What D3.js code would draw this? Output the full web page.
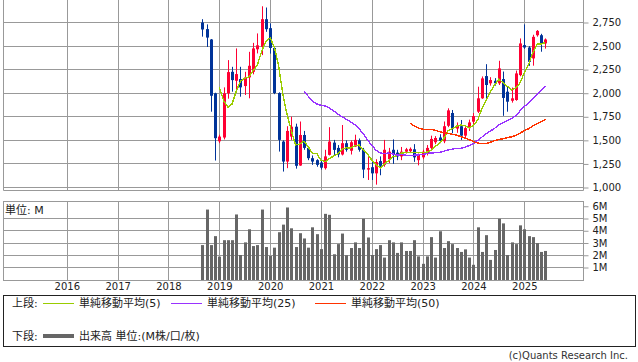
<!DOCTYPE html>
<html>
<head>
<meta charset="utf-8">
<script src="https://cdn.jsdelivr.net/npm/d3@7"></script>
<style>
  body { margin: 0; background: #fff; }
  svg { display: block; font-family: "DejaVu Sans", "Noto Sans CJK JP", sans-serif; }
</style>
</head>
<body>
<svg id="chart" width="638" height="362"></svg>
<script>
// monthly candles, first one is 2018-09
const firstMonth = new Date(2018, 8, 1);
const open  = [2750,2680,2570,1999,1490,1530,1999,2227,2132,2150,2076,2168,2227,2466,2492,2785,2690,2480,2002,1487,
               1275,1540,1645,1233,1557,1420,1311,1290,1265,1205,1346,1476,1420,1350,1470,1390,1434,1500,1400,1190,
               1215,1150,1280,1240,1300,1400,1370,1330,1380,1385,1405,1290,1320,1365,1420,1480,1530,1490,1655,1790,
               1625,1650,1550,1630,1698,1804,1946,2182,2105,2132,2105,2150,2016,1920,1928,2192,2510,2485,2369,2615,
               2615,2528];
const high  = [2785,2730,2575,2005,1560,2062,2351,2280,2475,2280,2227,2439,2534,2634,2922,2909,2740,2500,2010,1500,
               1650,1751,1677,1700,1600,1440,1340,1300,1290,1400,1640,1505,1450,1663,1500,1500,1560,1520,1420,1340,
               1290,1300,1330,1505,1420,1510,1400,1430,1420,1425,1460,1360,1400,1450,1550,1545,1565,1700,1840,1822,
               1690,1716,1660,1720,1790,2069,2178,2308,2170,2160,2344,2230,2069,2060,2240,2581,2730,2500,2620,2670,
               2630,2581];
const low   = [2600,2490,1804,1286,1470,1510,1942,2016,2034,1963,1981,1946,2200,2422,2404,2651,2420,1990,1381,1169,
               1205,1505,1200,1230,1400,1290,1240,1220,1190,1190,1340,1346,1320,1340,1380,1350,1430,1380,1100,1080,
               1080,1030,1130,1220,1260,1250,1290,1290,1360,1365,1272,1235,1300,1340,1400,1460,1470,1470,1640,1575,
               1580,1505,1520,1600,1670,1790,1940,1920,2080,2080,2087,1760,1804,1900,1920,2180,2470,2290,2292,2600,
               2440,2473];
const close = [2676,2590,1973,1523,1540,1999,2224,2139,2203,2062,2168,2291,2475,2508,2785,2679,2480,2002,1505,1275,
               1600,1645,1230,1557,1420,1311,1275,1240,1210,1330,1487,1399,1350,1470,1400,1480,1505,1400,1190,1205,
               1150,1270,1230,1400,1380,1346,1330,1380,1405,1410,1320,1346,1380,1420,1515,1525,1495,1650,1818,1630,
               1660,1550,1630,1690,1758,1946,2157,2087,2140,2105,2263,1950,1910,1946,2210,2528,2485,2333,2598,2661,
               2528,2570];
// volume in millions
const volume = [2.83,5.73,2.83,3.56,1.89,3.23,3.23,3.23,5.33,2.02,3.05,4.12,2.75,2.83,5.73,2.67,1.94,2.62,3.88,4.50,
                5.90,4.20,2.67,3.80,3.37,2.62,4.28,3.72,2.50,5.38,5.30,2.08,2.91,3.77,2.00,2.59,3.05,2.59,4.98,3.45,
                2.02,2.50,2.83,1.81,3.23,3.05,2.19,3.05,2.35,2.35,3.23,1.91,1.30,1.91,3.48,1.81,3.96,2.59,3.15,2.91,
                2.59,2.27,2.48,1.81,1.22,4.28,2.27,3.64,1.62,2.43,4.98,4.60,2.02,3.05,2.91,4.44,4.12,3.56,3.48,2.99,
                2.27,2.35];

const years = [2016,2017,2018,2019,2020,2021,2022,2023,2024,2025];
const priceTicks = [1000,1250,1500,1750,2000,2250,2500,2750];
const volumeTicks = [1,2,3,4,5,6];
const maPeriods = [5, 25, 50];
const maColors = ["#99cc00", "#9933ff", "#ff3300"];
const maLabels = ["単純移動平均(5)", "単純移動平均(25)", "単純移動平均(50)"];

const up = "#ff0033", down = "#003399", gridColor = "#999", textColor = "#222";
const left = 3, right = 583;

const svg = d3.select("#chart");

// month index counted from 2016-01
const baseIndex = (firstMonth.getFullYear() - 2016) * 12 + firstMonth.getMonth();
const data = close.map((c, i) => ({
  m: baseIndex + i, o: open[i], h: high[i], l: low[i], c: c, v: volume[i]
}));

// simple moving average of the monthly closes
function sma(n) {
  const out = [];
  for (let i = n - 1; i < close.length; i++) {
    out.push({ m: baseIndex + i, v: d3.mean(close.slice(i - n + 1, i + 1)) });
  }
  return out;
}

// ======================================================
// SCALES
const x = d3.scaleLinear().domain([-15.06, 121.86]).range([left, right]);
const y = d3.scaleLinear().domain([1000, 2750]).range([187.5, 22.5]);
const yv = d3.scaleLinear().domain([0, 5]).range([279.75, 218.5]);
const px = v => Math.round(x(v)) + 0.5;

const priceTop = 0, priceBottom = 190.5;
const volTop = 201.5, volBottom = 280.5;

// ======================================================
// PRICE PANEL
const gp = svg.append("g");

gp.selectAll("line.hgrid").data(priceTicks).enter().append("line")
  .attr("x1", left).attr("x2", right)
  .attr("y1", d => Math.round(y(d) - 0.5) + 0.5).attr("y2", d => Math.round(y(d) - 0.5) + 0.5)
  .attr("stroke", gridColor);

gp.selectAll("line.vgrid").data(years).enter().append("line")
  .attr("x1", d => px((d - 2016) * 12)).attr("x2", d => px((d - 2016) * 12))
  .attr("y1", priceTop).attr("y2", priceBottom)
  .attr("stroke", gridColor);

// borders
gp.append("path")
  .attr("d", `M${left + 0.5},${priceTop}V${priceBottom}H${right + 0.5}V${priceTop}`)
  .attr("fill", "none").attr("stroke", gridColor);

// right axis
gp.append("g")
  .attr("transform", `translate(${right + 0.5},0)`)
  .call(d3.axisRight(y).tickValues(priceTicks).tickSize(5).tickPadding(4).tickFormat(d3.format(",")))
  .call(g => g.select(".domain").remove())
  .call(g => g.selectAll("line").attr("stroke", gridColor))
  .call(g => g.selectAll("text").attr("fill", textColor).style("font-size", "10px")
      .style("font-family", "DejaVu Sans"));

// candles
const candles = gp.append("g").selectAll("g").data(data).enter().append("g");
candles.append("line")
  .attr("x1", d => px(d.m)).attr("x2", d => px(d.m))
  .attr("y1", d => y(d.h)).attr("y2", d => y(d.l))
  .attr("stroke", d => d.c >= d.o ? up : down);
candles.append("rect")
  .attr("x", d => Math.round(x(d.m)) - 1)
  .attr("width", 3)
  .attr("y", d => y(Math.max(d.o, d.c)))
  .attr("height", d => Math.max(1, Math.abs(y(d.o) - y(d.c))))
  .attr("fill", d => d.c >= d.o ? up : down);

// moving averages
const line = d3.line().x(d => x(d.m)).y(d => y(d.v));
maPeriods.forEach((n, k) => {
  gp.append("path")
    .datum(sma(n))
    .attr("d", line)
    .attr("fill", "none")
    .attr("stroke", maColors[k])
    .attr("stroke-width", 1.4)
    .attr("shape-rendering", "crispEdges");
});

// ======================================================
// VOLUME PANEL
const gv = svg.append("g");

gv.selectAll("line.hgrid").data(volumeTicks.slice(0, 5)).enter().append("line")
  .attr("x1", left).attr("x2", right)
  .attr("y1", d => Math.round(yv(d) - 0.5) + 0.5).attr("y2", d => Math.round(yv(d) - 0.5) + 0.5)
  .attr("stroke", gridColor);

gv.selectAll("line.vgrid").data(years).enter().append("line")
  .attr("x1", d => px((d - 2016) * 12)).attr("x2", d => px((d - 2016) * 12))
  .attr("y1", volTop).attr("y2", volBottom)
  .attr("stroke", gridColor);

gv.append("rect")
  .attr("x", left + 0.5).attr("y", volTop)
  .attr("width", right - left).attr("height", volBottom - volTop)
  .attr("fill", "none").attr("stroke", gridColor);

gv.append("g")
  .attr("transform", `translate(${right + 0.5},0)`)
  .call(d3.axisRight(yv).tickValues(volumeTicks).tickSize(5).tickPadding(4).tickFormat(d => d + "M"))
  .call(g => g.select(".domain").remove())
  .call(g => g.selectAll("line").attr("stroke", gridColor))
  .call(g => g.selectAll("text").attr("fill", textColor).style("font-size", "10px")
      .style("font-family", "DejaVu Sans"));

gv.selectAll("rect.bar").data(data).enter().append("rect")
  .attr("class", "bar")
  .attr("x", d => Math.round(x(d.m)) - 1)
  .attr("width", 3)
  .attr("y", d => yv(d.v))
  .attr("height", d => 280 - yv(d.v))
  .attr("fill", "#666");

gv.append("text")
  .attr("x", 5).attr("y", 214)
  .attr("fill", textColor).style("font-size", "11px")
  .text("単位: M");

// x axis (years)
svg.append("g")
  .attr("transform", "translate(0,281)")
  .call(d3.axisBottom(x).tickValues(years.map(d => (d - 2016) * 12)).tickSize(0).tickPadding(2)
      .tickFormat((d, i) => years[i]))
  .call(g => g.select(".domain").remove())
  .call(g => g.selectAll("text").attr("fill", textColor).style("font-size", "10px")
      .style("font-family", "DejaVu Sans"));

// ======================================================
// LEGEND
const lg = svg.append("g").style("font-size", "11px").attr("fill", textColor);
lg.append("rect")
  .attr("x", 3.5).attr("y", 295.5).attr("width", 632).attr("height", 51)
  .attr("fill", "none").attr("stroke", "#222");

lg.append("text").attr("x", 12).attr("y", 307).text("上段:");
const legX = [43, 171, 315];
maLabels.forEach((t, k) => {
  lg.append("line")
    .attr("x1", legX[k]).attr("x2", legX[k] + 31)
    .attr("y1", 303.5).attr("y2", 303.5)
    .attr("stroke", maColors[k]);
  lg.append("text").attr("x", legX[k] + 36).attr("y", 307).text(t);
});

lg.append("text").attr("x", 12).attr("y", 340).text("下段:");
lg.append("line")
  .attr("x1", 43).attr("x2", 74).attr("y1", 336).attr("y2", 336)
  .attr("stroke", "#666").attr("stroke-width", 4);
lg.append("text").attr("x", 79).attr("y", 340).text("出来高 単位:(M株/口/枚)");

svg.append("text")
  .attr("x", 628).attr("y", 359)
  .attr("text-anchor", "end")
  .attr("fill", "#333")
  .style("font-size", "10px")
  .text("(c)Quants Research Inc.");
</script>
</body>
</html>
